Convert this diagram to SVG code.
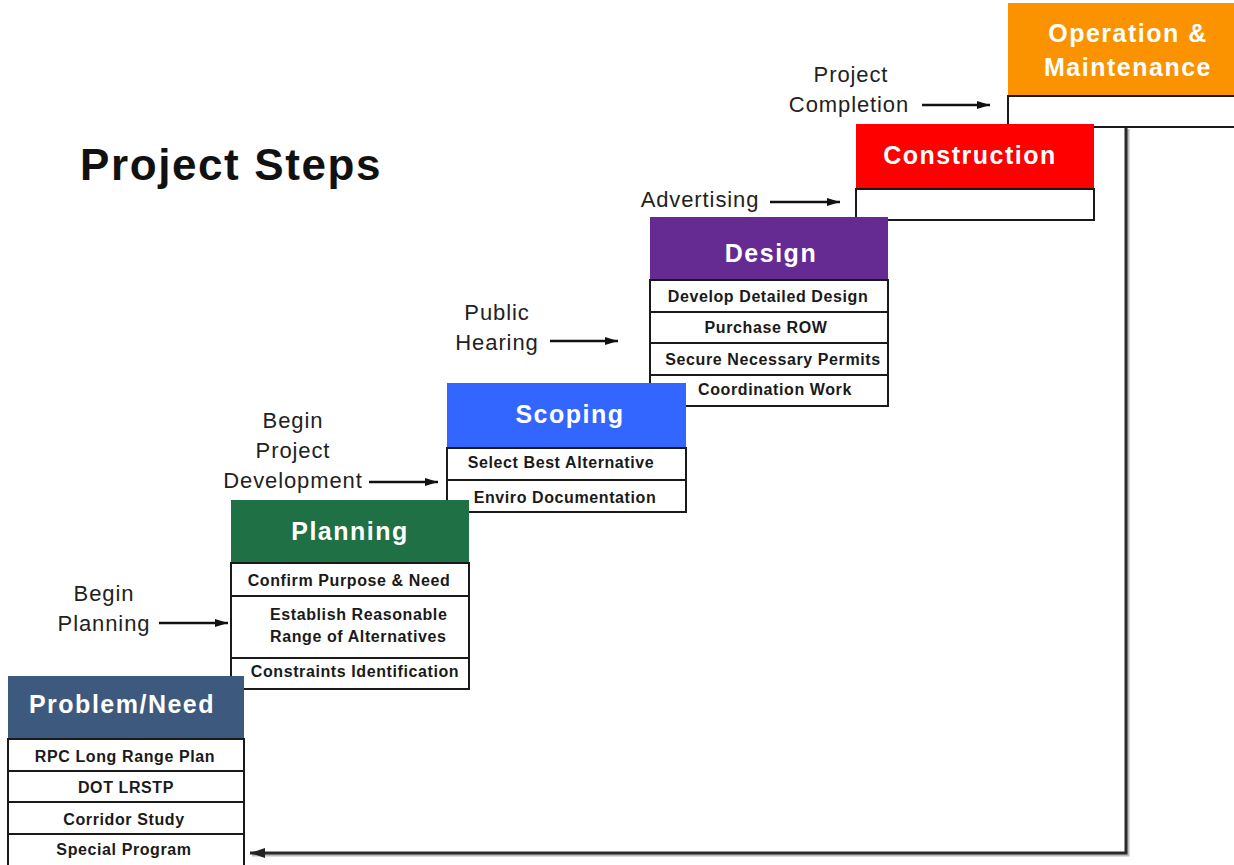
<svg xmlns="http://www.w3.org/2000/svg" width="1234" height="865" viewBox="0 0 1234 865">
<style>
.ttl{font-family:"Liberation Sans",Arial,sans-serif;font-weight:bold;font-size:25px;letter-spacing:1.5px;fill:#fff;text-anchor:middle}
.row{fill:#fff;stroke:#1a1a1a;stroke-width:2}
.rt{font-family:"Liberation Sans",Arial,sans-serif;font-weight:bold;font-size:16px;letter-spacing:0.6px;fill:#1a1a1a;text-anchor:middle}
.lb{font-family:"Liberation Sans",Arial,sans-serif;font-size:22px;letter-spacing:0.9px;fill:#222;text-anchor:middle}
.ar{stroke:#111;stroke-width:2.5;fill:none;marker-end:url(#ah)}
</style>
<defs>
<marker id="ah" markerUnits="userSpaceOnUse" markerWidth="14" markerHeight="10" refX="13" refY="5" orient="auto"><path d="M0,1 L13,5 L0,9 Z" fill="#111"/></marker>
<marker id="ahb" markerUnits="userSpaceOnUse" markerWidth="16" markerHeight="12" refX="15" refY="6" orient="auto"><path d="M0,1 L15,6 L0,11 Z" fill="#222"/></marker>
</defs>
<rect width="1234" height="865" fill="#fff"/>
<text x="80" y="180" font-family="Liberation Sans,Arial,sans-serif" font-weight="bold" font-size="44" letter-spacing="1.6" fill="#111">Project Steps</text>

<g id="connectors">
<path d="M1128,129 V855 H252" fill="none" stroke="#bbb" stroke-width="3"/>
<path d="M1126,127 V853 H250" fill="none" stroke="#2a2a2a" stroke-width="3" marker-end="url(#ahb)"/>
<line class="ar" x1="159" y1="623" x2="228" y2="623"/>
<line class="ar" x1="369" y1="482" x2="438" y2="482"/>
<line class="ar" x1="550" y1="341" x2="618" y2="341"/>
<line class="ar" x1="770" y1="202" x2="840" y2="202"/>
<line class="ar" x1="922" y1="105" x2="990" y2="105"/>
</g>

<g id="labels">
<text class="lb" x="104" y="601">Begin</text>
<text class="lb" x="104" y="631">Planning</text>
<text class="lb" x="293" y="428">Begin</text>
<text class="lb" x="293" y="458">Project</text>
<text class="lb" x="293" y="488">Development</text>
<text class="lb" x="497" y="320">Public</text>
<text class="lb" x="497" y="350">Hearing</text>
<text class="lb" x="700" y="207">Advertising</text>
<text class="lb" x="851" y="82">Project</text>
<text class="lb" x="849" y="112">Completion</text>
</g>

<g id="om">
<rect x="1008" y="3" width="240" height="93" fill="#fb9300"/>
<rect class="row" x="1008" y="96" width="240" height="31"/>
<text class="ttl" x="1128" y="42">Operation &amp;</text>
<text class="ttl" x="1128" y="76">Maintenance</text>
</g>

<g id="construction">
<rect x="856" y="124" width="238" height="65" fill="#fe0000"/>
<rect class="row" x="856" y="189" width="238" height="31"/>
<text class="ttl" x="970" y="164">Construction</text>
</g>

<g id="design">
<rect x="650" y="217" width="238" height="63" fill="#652b93"/>
<rect class="row" x="650" y="280" width="238" height="32"/>
<rect class="row" x="650" y="312" width="238" height="31"/>
<rect class="row" x="650" y="343" width="238" height="32"/>
<rect class="row" x="650" y="375" width="238" height="31"/>
<text class="ttl" x="771" y="262">Design</text>
<text class="rt" x="768" y="302">Develop Detailed Design</text>
<text class="rt" x="766" y="333">Purchase ROW</text>
<text class="rt" x="773" y="365">Secure Necessary Permits</text>
<text class="rt" x="775" y="395">Coordination Work</text>
</g>

<g id="scoping">
<rect x="447" y="383" width="239" height="65" fill="#3366ff"/>
<rect class="row" x="447" y="448" width="239" height="32"/>
<rect class="row" x="447" y="480" width="239" height="32"/>
<text class="ttl" x="570" y="423">Scoping</text>
<text class="rt" x="561" y="468">Select Best Alternative</text>
<text class="rt" x="565" y="503">Enviro Documentation</text>
</g>

<g id="planning">
<rect x="231" y="500" width="238" height="63" fill="#1f7045"/>
<rect class="row" x="231" y="563" width="238" height="33"/>
<rect class="row" x="231" y="596" width="238" height="62"/>
<rect class="row" x="231" y="658" width="238" height="31"/>
<text class="ttl" x="350" y="540">Planning</text>
<text class="rt" x="349" y="586">Confirm Purpose &amp; Need</text>
<text class="rt" x="270" y="620" style="text-anchor:start">Establish Reasonable</text>
<text class="rt" x="270" y="642" style="text-anchor:start">Range of Alternatives</text>
<text class="rt" x="355" y="677">Constraints Identification</text>
</g>

<g id="problem">
<rect x="8" y="676" width="236" height="63" fill="#3d5a7e"/>
<rect class="row" x="8" y="739" width="236" height="32"/>
<rect class="row" x="8" y="771" width="236" height="31"/>
<rect class="row" x="8" y="802" width="236" height="32"/>
<rect class="row" x="8" y="834" width="236" height="33"/>
<text class="ttl" x="122" y="713">Problem/Need</text>
<text class="rt" x="125" y="762">RPC Long Range Plan</text>
<text class="rt" x="126" y="793">DOT LRSTP</text>
<text class="rt" x="124" y="825">Corridor Study</text>
<text class="rt" x="124" y="855">Special Program</text>
</g>
</svg>
